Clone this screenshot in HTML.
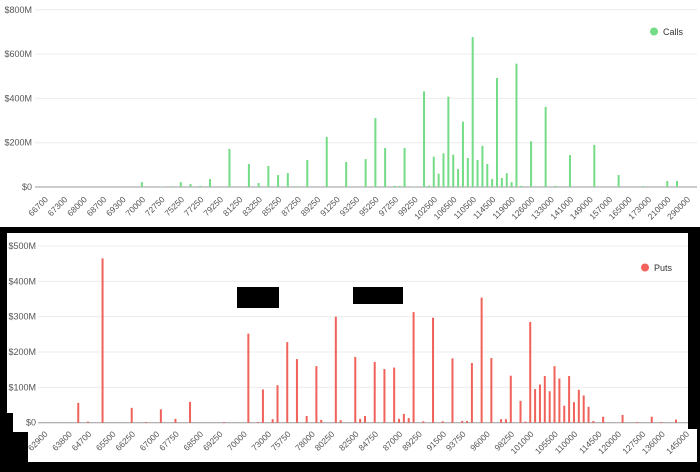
<!DOCTYPE html>
<html><head><meta charset="utf-8"><style>
html,body{margin:0;padding:0;background:#000;width:700px;height:472px;overflow:hidden}
svg{display:block;font-family:"Liberation Sans",sans-serif}
</style></head><body>
<svg id="s" width="700" height="472">
<rect x="0" y="0" width="700" height="227" fill="#fff"/>
<rect x="7" y="233" width="681" height="229" fill="#fff"/>
<rect x="28" y="429" width="669" height="33" fill="#fff"/>
<rect x="0" y="413" width="13" height="19" fill="#000"/>
<rect x="0" y="432" width="28" height="30" fill="#000"/>
<g id="top"></g><g id="bot"></g>
<rect x="237" y="287" width="42" height="21" fill="#000"/>
<rect x="353" y="287" width="50" height="17" fill="#000"/>
</svg>
<script>
// Calls chart data
const callTickIdx=[2,6,10,14,18,22,26,30,34,38,42,46,50,54,58,62,66,70,74,78,82,86,90,94,98,102,106,110,114,118,122,126,130,134];
const callTickLabels=["66700","67300","68000","68700","69300","70000","72750","75250","77250","79250","81250","83250","85250","87250","89250","91250","93250","95250","97250","99250","102500","106500","110500","114500","119000","126000","133000","141000","149000","157000","165000","173000","210000","290000"];
const callIdx=[22,26,28,30,32,34,36,40,44,46,48,50,52,54,56,60,64,68,70,72,74,75,76,78,80,81,82,83,84,85,86,87,88,89,90,91,92,93,94,95,96,97,98,99,100,102,105,107,110,115,120,125,130,132];
const callVal=[22,2,3,22,14,5,36,172,104,18,95,54,63,3,122,226,113,126,311,176,5,5,176,2,432,6,137,60,152,408,146,81,295,131,677,122,186,104,36,492,41,62,22,557,5,206,362,5,144,190,54,4,27,27];
// Puts chart data
const putTickIdx=[0,5,9,14,18,23,27,32,36,41,46,50,55,59,64,68,73,77,82,86,91,96,100,105,109,114,118,123,127,132];
const putTickLabels=["62900","63800","64700","65500","66250","67000","67750","68500","69250","70000","73000","75750","78000","80250","82500","84750","87000","89250","91500","93750","96000","98250","101000","105500","110000","114500","120000","127500","136000","145000"];
const putIdx=[7,9,12,18,21,24,27,30,37,42,44,45,47,48,50,52,54,56,57,60,61,64,65,66,68,70,72,73,74,75,76,78,80,82,84,86,87,88,90,92,94,95,96,98,99,100,101,102,103,104,105,106,107,108,109,110,111,112,113,115,119,122,125,127,130];
const putVal=[56,3,465,42,2,38,11,59,2,252,2,94,10,106,228,180,19,160,8,300,7,186,11,19,172,152,156,11,25,13,313,4,297,4,182,5,5,169,354,183,10,10,133,62,3,285,95,108,132,89,160,125,48,132,58,93,77,45,5,17,22,2,17,2,9];

const NS="http://www.w3.org/2000/svg";
function mk(p,t,a){const e=document.createElementNS(NS,t);for(const k in a)e.setAttribute(k,a[k]);p.appendChild(e);return e;}

function draw(g,o){
  const xs=i=>o.x0+(i+0.5)*o.step;
  const ys=v=>o.base-v*o.k;
  o.grid.forEach(v=>{
    const l=mk(g,'line',{x1:o.gx1,x2:o.gx2,y1:ys(v),y2:ys(v),stroke:v===0?'#9a9a9a':'#ececec','stroke-width':1});
    
    
    const t=mk(g,'text',{x:o.lx,y:ys(v)+3,'text-anchor':'end','font-size':9,fill:'#555'});
    t.textContent='$'+v+(v?'M':'');
    
    
  });
  o.idx.forEach((ix,j)=>{
    const v=o.val[j];
    const r=mk(g,'rect',{x:xs(ix)-1,y:ys(v),width:2,height:Math.max(v*o.k,0.5),fill:o.color});
    
    
  });
  o.tIdx.forEach((ix,j)=>{
    const x=xs(ix)+4,y=o.base+o.ly;
    const t=mk(g,'text',{x:x,y:y,'text-anchor':'end','font-size':8.5,fill:'#555',transform:`rotate(-45 ${x} ${y})`});
    t.textContent=o.tLab[j];
    
    
  });
  const c=mk(g,'circle',{cx:o.legX,cy:o.legY,r:4,fill:o.color});
  
  
  const lt=mk(g,'text',{x:o.legX+9,y:o.legY+3.5,'font-size':9,fill:'#333'});
  lt.textContent=o.name;
  
  
}
draw(document.getElementById('top'),{x0:32.4,step:4.865,base:187,k:0.2215,grid:[0,200,400,600,800],gx1:35,gx2:697,lx:32,ly:13,idx:callIdx,val:callVal,tIdx:callTickIdx,tLab:callTickLabels,color:'#74dc86',legX:654,legY:31.5,name:'Calls'});
draw(document.getElementById('bot'),{x0:41.8,step:4.86,base:422.7,k:0.3534,grid:[0,100,200,300,400,500],gx1:38,gx2:688,lx:36,ly:12,idx:putIdx,val:putVal,tIdx:putTickIdx,tLab:putTickLabels,color:'#f0625a',legX:645,legY:267.5,name:'Puts'});
</script>
</body></html>
